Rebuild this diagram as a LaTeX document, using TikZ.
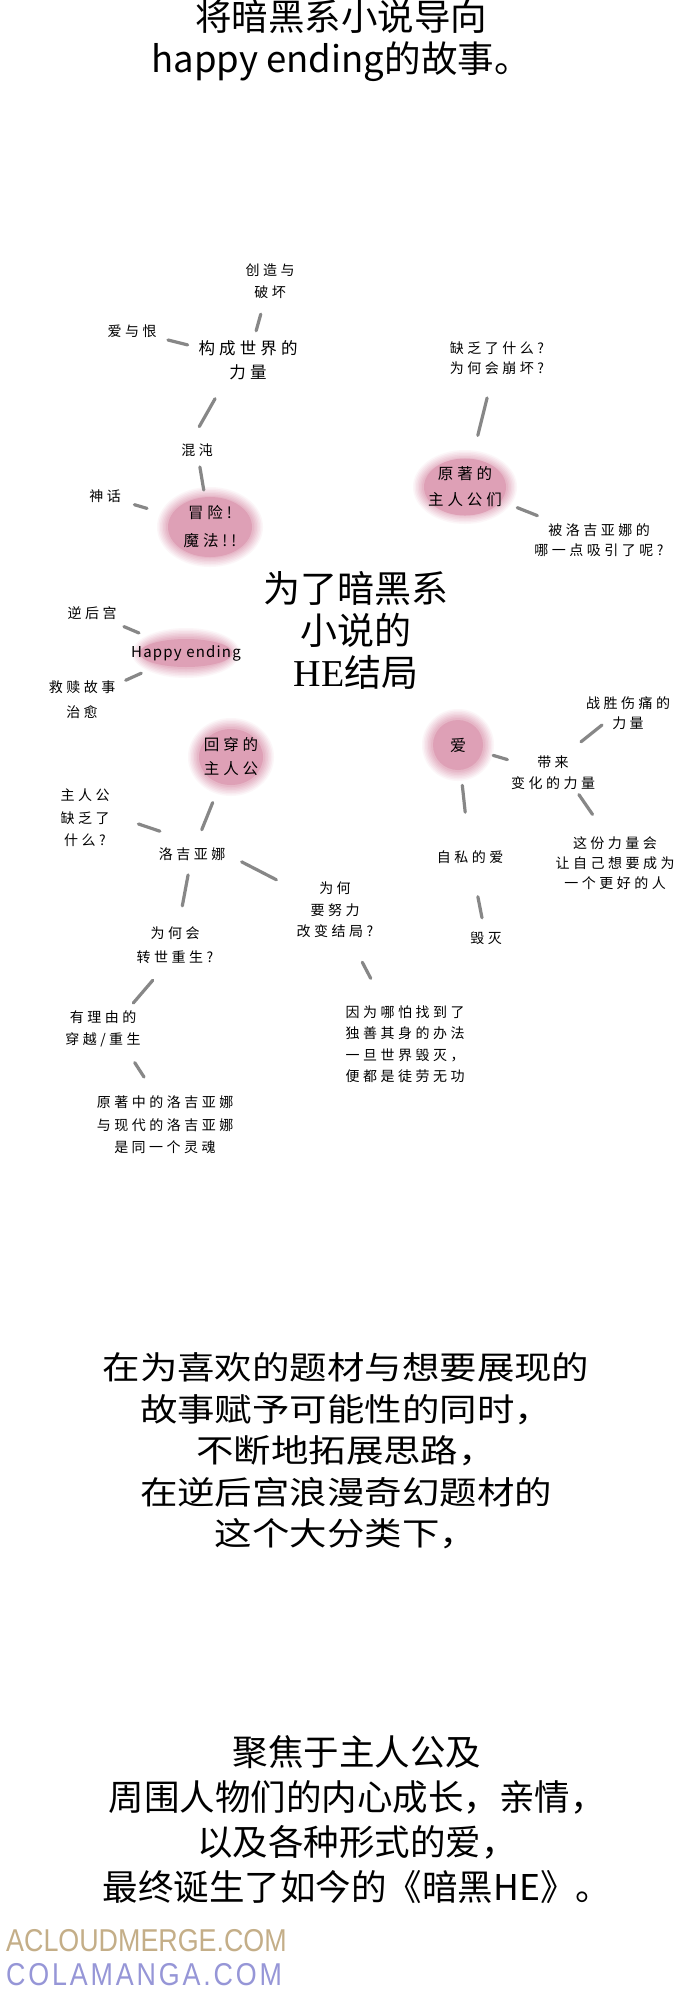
\documentclass[tikz,border=0pt]{standalone}
\usepackage{fontspec}
\setmainfont{Noto Sans CJK SC}
\newfontfamily\cjk{Noto Sans CJK SC}
\newfontfamily\widecjk[FakeStretch=1.17]{Noto Sans CJK SC}
\newfontfamily\hand[LetterSpace=25]{Noto Sans CJK SC}
\newfontfamily\handlatin[LetterSpace=8]{Noto Sans CJK SC}
\newfontfamily\serifhe{Liberation Serif}
\newfontfamily\wmfont[FakeStretch=0.85]{Liberation Sans}
\newfontfamily\wmfontb[FakeStretch=0.85,LetterSpace=9]{Liberation Sans}
\usetikzlibrary{shapes.geometric,calc,backgrounds}

\definecolor{blobpink}{RGB}{222,160,182}
\definecolor{linkgray}{RGB}{135,135,135}
\definecolor{wmtan}{RGB}{196,174,136}
\definecolor{wmblue}{RGB}{150,150,215}

\begin{document}
\begin{tikzpicture}[
    x=1pt, y=-1pt,
    heading/.style={
        font=\cjk\fontsize{36.5}{42}\selectfont,
        align=center,
        inner sep=0pt
    },
    widebody/.style={
        font=\widecjk\fontsize{32}{41.5}\selectfont,
        align=center,
        inner sep=0pt
    },
    body/.style={
        font=\cjk\fontsize{35.5}{45}\selectfont,
        align=center,
        inner sep=0pt
    },
    theme/.style={
        font=\cjk\fontsize{37}{42}\selectfont,
        align=center,
        inner sep=0pt
    },
    note/.style={
        font=\hand\fontsize{14}{21.5}\selectfont,
        align=center,
        inner sep=1pt
    },
    bignote/.style={
        font=\hand\fontsize{16.5}{24}\selectfont,
        align=center,
        inner sep=1pt
    },
    blob/.style={
        ellipse,
        fill=blobpink,
        inner sep=0pt,
        align=center,
        font=\hand\fontsize{15.5}{26}\selectfont
    },
    link/.style={
        draw=linkgray,
        line width=3.2pt,
        line cap=round
    },
    wmark/.style={
        font=\wmfont\fontsize{31.6}{32}\selectfont,
        anchor=west,
        inner sep=0pt
    }
]

\useasboundingbox (0,0) rectangle (690,2000);

\node[heading] (title) at (341,41)
    {将暗黑系小说导向\\happy ending的故事。};

\node[note] (create) at (270,281)
    {创造与\\破坏};

\node[note] (lovehate) at (132,331)
    {爱与恨};

\node[bignote] (power) at (248,360)
    {构成世界的\\力量};

\node[note] (chaos) at (197,450)
    {混沌};

\node[note] (myth) at (105,496)
    {神话};

\node[blob, minimum width=84pt, minimum height=58pt] (adventure) at (210,527)
    {冒险!\\[2pt]魔法!!};

\node[note] (lack) at (497,358)
    {缺乏了什么?\\[-1.5pt]为何会崩坏?};

\node[blob, inner xsep=-10pt, minimum width=82pt, minimum height=52pt] (origleads) at (465,487)
    {原著的\\主人公们};

\node[note] (attract) at (599,540)
    {被洛吉亚娜的\\[-2pt]哪一点吸引了呢?};

\node[theme] (theme) at (356,630)
    {为了暗黑系\\小说的\\{\serifhe\fontsize{38}{42}\selectfont HE}结局};

\node[note] (harem) at (92,613)
    {逆后宫};

\node[blob, font=\handlatin\fontsize{15}{18}\selectfont, inner xsep=-22pt,
      minimum width=86pt, minimum height=28pt] (happy) at (186,653)
    {Happy ending};

\node[note] (redeem) at (82,700)
    {救赎故事\\[3.5pt]治愈};

\node[blob, inner xsep=-7pt, minimum width=64pt, minimum height=56pt] (isekai) at (231,757)
    {回穿的\\[-2pt]主人公};

\node[note] (lacklead) at (85,818)
    {主人公\\[1pt]缺乏了\\[1pt]什么?};

\node[note] (rosie) at (192,854)
    {洛吉亚娜};

\node[blob, minimum width=50pt, minimum height=50pt,
      font=\hand\fontsize{16}{20}\selectfont] (love) at (458,745)
    {爱};

\node[note] (overcome) at (628,713)
    {战胜伤痛的\\[-1.5pt]力量};

\node[note] (bringchange) at (553,773)
    {带来\\[-0.5pt]变化的力量};

\node[note] (better) at (615,863)
    {这份力量会\\[-1.5pt]让自己想要成为\\[-1.5pt]一个更好的人};

\node[note] (selfish) at (470,857)
    {自私的爱};

\node[note] (ruin) at (486,938)
    {毁灭};

\node[note] (whytry) at (335,910)
    {为何\\要努力\\改变结局?};

\node[note] (because) at (405,1044)
    {因为哪怕找到了\\独善其身的办法\\一旦世界毁灭，\\便都是徒劳无功};

\node[note] (whyreborn) at (175,945)
    {为何会\\[2.5pt]转世重生?};

\node[note] (reason) at (103,1029)
    {有理由的\\[0.5pt]穿越/重生};

\node[note] (samesoul) at (165,1125)
    {原著中的洛吉亚娜\\[1pt]与现代的洛吉亚娜\\[1pt]是同一个灵魂};

\node[widebody] (para1) at (346,1451)
    {在为喜欢的题材与想要展现的\\故事赋予可能性的同时，\\不断地拓展思路，\\在逆后宫浪漫奇幻题材的\\这个大分类下，};

\node[body] (para2) at (357,1820)
    {聚焦于主人公及\\周围人物们的内心成长，亲情，\\以及各种形式的爱，\\最终诞生了如今的《暗黑HE》。};

\node[wmark, text=wmtan] (wmtop) at (6,1941)
    {ACLOUDMERGE.COM};

\node[wmark, font=\wmfontb\fontsize{31.6}{32}\selectfont, text=wmblue] (wmbottom) at (6,1975)
    {COLAMANGA.COM};


\begin{scope}[on background layer]
    \fill[white] (0,0) rectangle (690,2000);
    \foreach \b/\rx/\ry in {adventure/53/40, origleads/52/37, happy/54/25, isekai/43/39, love/36/36}
        \foreach \k in {0,...,6} {
            \pgfmathtruncatemacro\tone{10+11*\k}
            \pgfmathsetmacro\xr{\rx-1.5*\k}
            \pgfmathsetmacro\yr{\ry-1.5*\k}
            \fill[blobpink!\tone] (\b) ellipse [x radius=\xr pt, y radius=\yr pt];
        }
\end{scope}


\draw[link] ($(create)!.42!(power)$) -- ($(create)!.63!(power)$);
\draw[link] ($(lovehate)!.31!(power)$) -- ($(lovehate)!.48!(power)$);
\draw[link] ($(power)!.43!(chaos)+(-11,0)$) -- ($(power)!.74!(chaos)+(-11,0)$);
\draw[link] ($(chaos)!.22!(adventure)$) -- ($(chaos)!.52!(adventure)$);
\draw[link] ($(myth)!.28!(adventure)$) -- ($(myth)!.40!(adventure)$);

\draw[link] ($(lack)!.31!(origleads)$) -- ($(lack)!.60!(origleads)$);
\draw[link] ($(origleads)!.39!(attract)$) -- ($(origleads)!.54!(attract)$);

\draw[link] ($(harem)!.34!(happy)$) -- ($(harem)!.50!(happy)$);
\draw[link] ($(happy)!.43!(redeem)$) -- ($(happy)!.58!(redeem)$);

\draw[link] ($(isekai)!.47!(rosie)$) -- ($(isekai)!.75!(rosie)$);
\draw[link] ($(lacklead)!.50!(rosie)+(0,-12)$) -- ($(lacklead)!.70!(rosie)+(0,-12)$);
\draw[link] ($(rosie.east)!.14!(whytry)$) -- ($(rosie.east)!.46!(whytry)$);
\draw[link] ($(rosie)!.23!(whyreborn)$) -- ($(rosie)!.57!(whyreborn)$);
\draw[link] ($(whyreborn)!.42!(reason)+(8,0)$) -- ($(whyreborn)!.69!(reason)+(8,0)$);
\draw[link] ($(reason)!.35!(samesoul)+(10,0)$) -- ($(reason)!.50!(samesoul)+(10,0)$);
\draw[link] ($(whytry)!.39!(because)$) -- ($(whytry)!.51!(because)$);

\draw[link] ($(love)!.37!(bringchange)$) -- ($(love)!.52!(bringchange)$);
\draw[link] ($(overcome)!.20!(bringchange)+(-11,0)$) -- ($(overcome)!.48!(bringchange)+(-11,0)$);
\draw[link] ($(bringchange)!.24!(better)+(11,0)$) -- ($(bringchange)!.46!(better)+(11,0)$);
\draw[link] ($(love)!.36!(selfish)$) -- ($(love)!.60!(selfish)$);
\draw[link] ($(selfish)!.49!(ruin)$) -- ($(selfish)!.75!(ruin)$);

\end{tikzpicture}
\end{document}
